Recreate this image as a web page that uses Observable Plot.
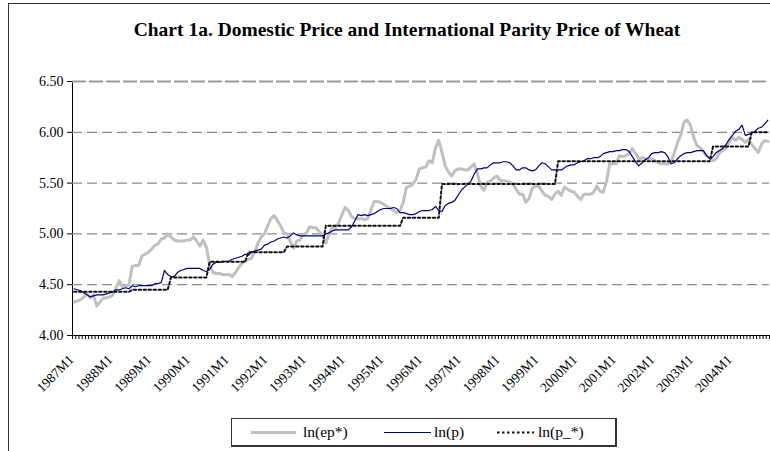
<!DOCTYPE html>
<html>
<head>
<meta charset="utf-8">
<script src="https://cdn.jsdelivr.net/npm/d3@7"></script>
<script src="https://cdn.jsdelivr.net/npm/@observablehq/plot@0.6"></script>
<style>
  html, body { margin: 0; padding: 0; background: #fff; }
  #wrap { position: relative; width: 770px; height: 451px; overflow: hidden; background: #fff; font-family: "Liberation Serif", "Times New Roman", serif; }
  #frame { position: absolute; left: 8px; top: 3px; width: 800px; height: 480px; border-left: 1.5px solid #333; border-top: 1.5px solid #333; }
  #title { position: absolute; left: 0; top: 19px; width: 814px; text-align: center; font-weight: bold; font-size: 19.5px; line-height: 22px; color: #000; white-space: nowrap; font-family: "Liberation Serif", "Times New Roman", serif; }
  #chart { position: absolute; left: 0; top: 0; }
  #chart svg, #chart svg text { font-family: "Liberation Serif", "Times New Roman", serif !important; }
  #legend { position: absolute; left: 231px; top: 418px; width: 383px; height: 26px; border: 1px solid #333; border-right-width: 2px; border-bottom-width: 2px; background: #fff; }
  .li { position: absolute; top: 0; height: 26px; font-size: 15.5px; line-height: 26px; color: #000; white-space: nowrap; font-family: "Liberation Serif", "Times New Roman", serif; }
</style>
</head>
<body>
<div id="wrap">
  <div id="frame"></div>
  <div id="chart"></div>
  <div id="title">Chart 1a. Domestic Price and International Parity Price of Wheat</div>
  <div id="legend"></div>
</div>
<script>
// ---- Data (monthly, 1987M1 – 2004M12) ----
const years = [1987,1988,1989,1990,1991,1992,1993,1994,1995,1996,1997,1998,1999,2000,2001,2002,2003,2004];
const tickLabels = ["1987M1","1988M1","1989M1","1990M1","1991M1","1992M1","1993M1","1994M1","1995M1","1996M1","1997M1","1998M1","1999M1","2000M1","2001M1","2002M1","2003M1","2004M1"];
const yTicks = [4.0, 4.5, 5.0, 5.5, 6.0, 6.5];
const seriesNames = ["ln(ep*)", "ln(p)", "ln(p_*)"];

// ln(ep*) – international parity price
const lnEp = [
  4.33, 4.34, 4.35, 4.38, 4.41, 4.37, 4.40, 4.29, 4.33, 4.37, 4.37, 4.38,
  4.40, 4.47, 4.54, 4.48, 4.49, 4.50, 4.68, 4.69, 4.69, 4.78, 4.80, 4.82,
  4.85, 4.89, 4.90, 4.95, 4.96, 5.00, 4.97, 4.94, 4.93, 4.93, 4.93, 4.94,
  4.94, 4.97, 4.93, 4.88, 4.94, 4.87, 4.70, 4.62, 4.61, 4.61, 4.60, 4.60,
  4.60, 4.58, 4.62, 4.67, 4.71, 4.73, 4.75, 4.76, 4.83, 4.91, 4.97, 5.00,
  5.08, 5.15, 5.18, 5.13, 5.08, 5.01, 5.00, 4.92, 4.86, 4.93, 4.94, 4.99,
  5.01, 5.07, 5.06, 5.06, 5.02, 4.98, 4.91, 5.00, 5.06, 5.06, 5.11, 5.19,
  5.26, 5.23, 5.17, 5.15, 5.15, 5.15, 5.14, 5.15, 5.24, 5.32, 5.32, 5.31,
  5.29, 5.27, 5.25, 5.23, 5.21, 5.23, 5.31, 5.46, 5.47, 5.49, 5.54, 5.64,
  5.65, 5.66, 5.72, 5.70, 5.85, 5.92, 5.80, 5.67, 5.61, 5.57, 5.62, 5.64,
  5.64, 5.63, 5.63, 5.66, 5.69, 5.59, 5.47, 5.43, 5.51, 5.52, 5.55, 5.57,
  5.53, 5.52, 5.52, 5.51, 5.49, 5.44, 5.39, 5.39, 5.31, 5.35, 5.45, 5.47,
  5.47, 5.42, 5.38, 5.37, 5.34, 5.39, 5.42, 5.38, 5.46, 5.44, 5.42, 5.41,
  5.37, 5.34, 5.39, 5.39, 5.39, 5.41, 5.47, 5.42, 5.41, 5.52, 5.69, 5.69,
  5.69, 5.77, 5.76, 5.77, 5.79, 5.84, 5.79, 5.74, 5.75, 5.74, 5.74, 5.74,
  5.72, 5.70, 5.69, 5.69, 5.69, 5.70, 5.80, 5.90, 5.97, 6.10, 6.12, 6.07,
  5.95, 5.87, 5.85, 5.81, 5.77, 5.75, 5.72, 5.74, 5.80, 5.82, 5.84, 5.90,
  5.95, 5.92, 5.95, 5.93, 5.90, 5.93, 5.88, 5.84, 5.80, 5.88, 5.92, 5.91
];

// ln(p) – domestic price
const lnP = [
  4.46, 4.45, 4.44, 4.42, 4.40, 4.38, 4.39, 4.40, 4.40, 4.40, 4.41, 4.42,
  4.43, 4.45, 4.45, 4.46, 4.47, 4.46, 4.49, 4.48, 4.49, 4.49, 4.49, 4.49,
  4.49, 4.51, 4.51, 4.52, 4.64, 4.60, 4.58, 4.58, 4.62, 4.64, 4.65, 4.66,
  4.66, 4.66, 4.66, 4.66, 4.64, 4.63, 4.65, 4.70, 4.72, 4.72, 4.73, 4.73,
  4.73, 4.75, 4.76, 4.77, 4.78, 4.80, 4.79, 4.82, 4.83, 4.84, 4.85, 4.89,
  4.90, 4.92, 4.93, 4.95, 4.96, 4.97, 4.96, 4.98, 5.01, 4.99, 4.98, 4.98,
  4.98, 4.98, 4.98, 4.98, 4.98, 4.98, 5.00, 5.01, 5.03, 5.04, 5.04, 5.04,
  5.04, 5.04, 5.07, 5.13, 5.19, 5.18, 5.19, 5.18, 5.19, 5.20, 5.22, 5.24,
  5.25, 5.25, 5.25, 5.26, 5.25, 5.21, 5.21, 5.20, 5.19, 5.19, 5.20, 5.22,
  5.23, 5.23, 5.23, 5.24, 5.27, 5.23, 5.22, 5.28, 5.30, 5.31, 5.33, 5.38,
  5.43, 5.46, 5.49, 5.52, 5.59, 5.64, 5.64, 5.65, 5.65, 5.68, 5.70, 5.70,
  5.70, 5.71, 5.71, 5.70, 5.67, 5.63, 5.63, 5.65, 5.65, 5.63, 5.62, 5.63,
  5.67, 5.70, 5.69, 5.66, 5.63, 5.63, 5.63, 5.63, 5.65, 5.67, 5.68, 5.68,
  5.70, 5.71, 5.72, 5.74, 5.74, 5.75, 5.75, 5.76, 5.79, 5.80, 5.81, 5.81,
  5.82, 5.82, 5.83, 5.83, 5.81, 5.76, 5.71, 5.67, 5.70, 5.73, 5.75, 5.79,
  5.80, 5.80, 5.81, 5.80, 5.76, 5.69, 5.70, 5.74, 5.77, 5.79, 5.80, 5.80,
  5.81, 5.82, 5.82, 5.82, 5.77, 5.74, 5.76, 5.80, 5.82, 5.84, 5.88, 5.93,
  5.97, 6.01, 6.03, 6.07, 5.97, 5.98, 5.99, 6.01, 6.04, 6.05, 6.08, 6.12
];

// ln(p_*) – administered (step) price
const lnPStar = [
  4.43, 4.43, 4.43, 4.43, 4.43, 4.43, 4.43, 4.43, 4.43, 4.43, 4.43, 4.43,
  4.43, 4.43, 4.43, 4.43, 4.43, 4.43, 4.45, 4.45, 4.45, 4.45, 4.45, 4.45,
  4.45, 4.45, 4.45, 4.45, 4.45, 4.45, 4.57, 4.57, 4.57, 4.57, 4.57, 4.57,
  4.57, 4.57, 4.57, 4.57, 4.57, 4.57, 4.725, 4.725, 4.725, 4.725, 4.725, 4.725,
  4.725, 4.725, 4.725, 4.725, 4.725, 4.725, 4.82, 4.82, 4.82, 4.82, 4.82, 4.82,
  4.82, 4.82, 4.82, 4.82, 4.82, 4.82, 4.875, 4.875, 4.875, 4.875, 4.875, 4.875,
  4.875, 4.875, 4.875, 4.875, 4.875, 4.875, 5.08, 5.08, 5.08, 5.08, 5.08, 5.08,
  5.08, 5.08, 5.08, 5.08, 5.08, 5.08, 5.08, 5.08, 5.08, 5.08, 5.08, 5.08,
  5.08, 5.08, 5.08, 5.08, 5.08, 5.08, 5.16, 5.16, 5.16, 5.16, 5.16, 5.16,
  5.16, 5.16, 5.16, 5.16, 5.16, 5.16, 5.49, 5.49, 5.49, 5.49, 5.49, 5.49,
  5.49, 5.49, 5.49, 5.49, 5.49, 5.49, 5.49, 5.49, 5.49, 5.49, 5.49, 5.49,
  5.49, 5.49, 5.49, 5.49, 5.49, 5.49, 5.49, 5.49, 5.49, 5.49, 5.49, 5.49,
  5.49, 5.49, 5.49, 5.49, 5.49, 5.49, 5.715, 5.715, 5.715, 5.715, 5.715, 5.715,
  5.715, 5.715, 5.715, 5.715, 5.715, 5.715, 5.715, 5.715, 5.715, 5.715, 5.715, 5.715,
  5.715, 5.715, 5.715, 5.715, 5.715, 5.715, 5.715, 5.715, 5.715, 5.715, 5.715, 5.715,
  5.715, 5.715, 5.715, 5.715, 5.715, 5.715, 5.715, 5.715, 5.715, 5.715, 5.715, 5.715,
  5.715, 5.715, 5.715, 5.715, 5.715, 5.715, 5.86, 5.86, 5.86, 5.86, 5.86, 5.86,
  5.86, 5.86, 5.86, 5.86, 5.86, 5.86, 6.00, 6.00, 6.00, 6.00, 6.00, 6.00
];

// ---- Build ----
const fontStack = "'Liberation Serif', 'Times New Roman', serif";
const nMonths = years.length * 12;
const monthTicks = d3.range(0, nMonths + 1);
const labelPos = tickLabels.map((_, k) => k * 12);
const toRows = arr => arr.map((v, i) => ({i: i + 0.5, v}));

const chart = Plot.plot({
  width: 770,
  height: 451,
  marginLeft: 72,
  marginRight: 1,
  marginTop: 81,
  marginBottom: 116,
  style: {background: "transparent", fontFamily: fontStack, fontSize: "14px", color: "#000"},
  x: {domain: [0, nMonths], ticks: monthTicks, tickFormat: () => "", tickSize: 4, line: true, label: null},
  y: {domain: [4, 6.5], ticks: yTicks, tickFormat: d => d.toFixed(2), tickSize: 5, tickPadding: 4, line: true, label: null},
  marks: [
    Plot.ruleY(yTicks.filter(v => v > 4 && v < 6.5), {stroke: "#8c8c8c", strokeWidth: 1.2, strokeDasharray: "10,5"}),
    Plot.ruleY([6.5], {stroke: "#9a9a9a", strokeWidth: 2, strokeDasharray: "14,3"}),
    Plot.line(toRows(lnEp), {x: "i", y: "v", stroke: "#c0c0c0", strokeWidth: 3, strokeLinejoin: "round"}),
    Plot.line(toRows(lnP), {x: "i", y: "v", stroke: "#000080", strokeWidth: 1.2}),
    Plot.line(toRows(lnPStar), {x: "i", y: "v", stroke: "#111", strokeWidth: 2, strokeDasharray: "2.5,2.5"}),
    Plot.text(labelPos, {x: d => d, y: () => 4, text: (d, k) => tickLabels[k], rotate: -45, textAnchor: "end", dy: 22, dx: -1, fontSize: 13.5, fill: "#000"})
  ]
});
chart.setAttribute("font-family", fontStack);
document.getElementById("chart").appendChild(chart);

// ---- Legend ----
const legendItems = [
  {name: seriesNames[0], color: "#c0c0c0", width: 3, dash: null, sx: 19, sw: 45, tx: 71},
  {name: seriesNames[1], color: "#000080", width: 1.2, dash: null, sx: 152, sw: 47, tx: 202},
  {name: seriesNames[2], color: "#111", width: 2, dash: "2.5,2.5", sx: 265, sw: 37, tx: 306}
];
const legend = d3.select("#legend");
legendItems.forEach(it => {
  const svg = legend.append("svg")
    .style("position", "absolute").style("left", it.sx + "px").style("top", "0px")
    .attr("width", it.sw).attr("height", 26);
  svg.append("line").attr("x1", 0).attr("x2", it.sw).attr("y1", 13.5).attr("y2", 13.5)
    .attr("stroke", it.color).attr("stroke-width", it.width)
    .attr("stroke-dasharray", it.dash);
  legend.append("div").attr("class", "li").style("left", it.tx + "px").text(it.name);
});
</script>
</body>
</html>
